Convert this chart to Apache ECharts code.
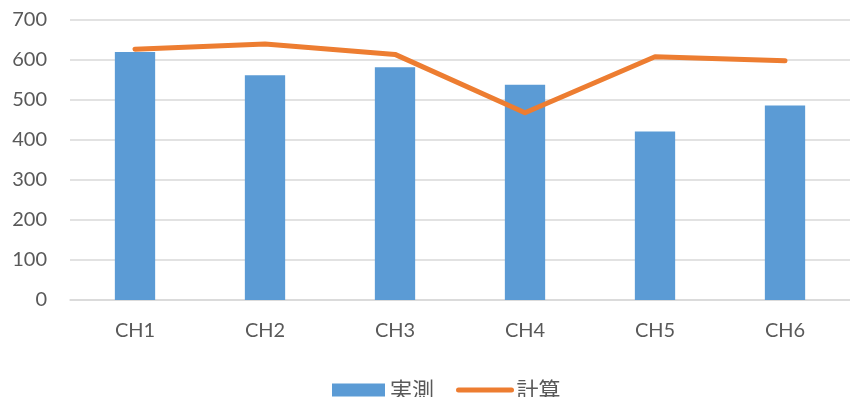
<!DOCTYPE html>
<html>
<head>
<meta charset="utf-8">
<script src="https://cdn.jsdelivr.net/npm/echarts@6/dist/echarts.min.js"></script>
<style>
  html, body { margin: 0; padding: 0; background: #fff; }
  #chart { width: 850px; height: 397px; }
</style>
</head>
<body>
<div id="chart"></div>
<script>
// Channel names and the two value series
const categories = ['CH1', 'CH2', 'CH3', 'CH4', 'CH5', 'CH6'];
const measured = [620, 562, 582, 538, 421, 486];   // 実測
const calculated = [627, 640, 614, 468, 608, 598]; // 計算
const yTicks = { min: 0, max: 700, interval: 100 };

const labelColor = '#595959';
const gridColor = '#D9D9D9';
const lineColor = '#ED7D31';
const fontFamily = 'Lato, "Noto Sans CJK JP", sans-serif';

const chart = echarts.init(document.getElementById('chart'));
chart.setOption({
  animation: false,
  textStyle: { fontFamily: fontFamily },
  grid: { left: 70, top: 20, width: 784, height: 280, containLabel: false },
  legend: {
    top: 373,
    left: 327,
    itemWidth: 53,
    itemHeight: 13,
    itemGap: 22,
    textStyle: {
      color: labelColor,
      fontSize: 22,
      lineHeight: 24,
      fontFamily: '"Noto Sans CJK JP", sans-serif'
    },
    data: [
      { name: '実測', icon: 'rect' },
      {
        name: '計算',
        itemStyle: { opacity: 0 },
        lineStyle: { color: lineColor, width: 5, cap: 'round' }
      }
    ]
  },
  xAxis: {
    type: 'category',
    data: categories,
    axisLine: { lineStyle: { color: gridColor, width: 1.5 } },
    axisTick: { show: false },
    axisLabel: { color: labelColor, fontSize: 20, margin: 21 }
  },
  yAxis: {
    type: 'value',
    min: yTicks.min,
    max: yTicks.max,
    interval: yTicks.interval,
    axisLine: { show: false },
    axisTick: { show: false },
    axisLabel: { color: labelColor, fontSize: 20, margin: 23 },
    splitLine: { lineStyle: { color: gridColor, width: 1.5 } }
  },
  series: [
    {
      name: '実測',
      type: 'bar',
      data: measured,
      barWidth: '31%',
      itemStyle: { color: '#5B9BD5' }
    },
    {
      name: '計算',
      type: 'line',
      data: calculated,
      symbol: 'none',
      lineStyle: { color: lineColor, width: 5, cap: 'round', join: 'round' },
      itemStyle: { color: lineColor }
    }
  ]
});
</script>
</body>
</html>
